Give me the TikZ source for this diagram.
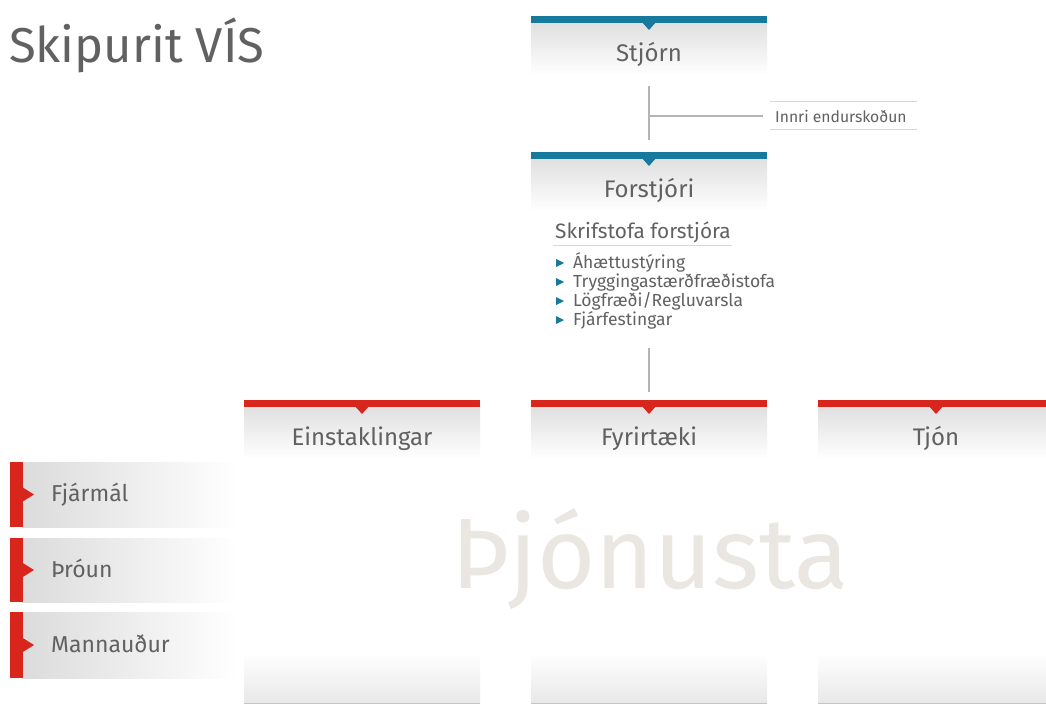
\documentclass[tikz,border=0pt]{standalone}
\usepackage{fontspec}
\setmainfont{Fira Sans}
\definecolor{vblue}{HTML}{17799B}
\definecolor{vred}{HTML}{D9261C}
\definecolor{txt}{HTML}{616161}
\definecolor{wm}{HTML}{EAE6E2}
\definecolor{lgray}{HTML}{C8C8C8}
\tikzset{
  hdtext/.style={anchor=base, text=txt, font=\fontsize{24}{24}\selectfont, inner sep=0pt},
  sidetext/.style={anchor=base west, text=txt, font=\fontsize{23}{23}\selectfont, inner sep=0pt},
  itemtext/.style={anchor=base west, text=txt, font=\fontsize{17.5}{17.5}\selectfont, inner sep=0pt},
  conn/.style={draw=lgray!90!black, line width=1.6pt},
}
\newcommand\headerbox[5]{% name, cx, bar y, color, label
  \shade[top color=black!13, bottom color=white] (#2-118,#3) rectangle (#2+118,#3+56);
  \fill[#4] (#2-118,#3-3.5) rectangle (#2+118,#3+3.5);
  \fill[#4] (#2-8,#3+2) -- (#2+8,#3+2) -- (#2,#3+11) -- cycle;
  \node[hdtext] (#1) at (#2,#3+42) {#5};
}
\newcommand\sidebox[4]{% name, top y, bottom y, label
  \shade[left color=black!14, right color=white] (22,#2) rectangle (236,#3);
  \fill[vred] (10,#2) rectangle (22.5,#3);
  \fill[vred] (22,{(#2+#3)/2-7.5}) -- (34,{(#2+#3)/2}) -- (22,{(#2+#3)/2+7.5}) -- cycle;
  \node[sidetext] (#1) at (51,{(#2+#3)/2+7}) {#4};
}
\begin{document}
\begin{tikzpicture}[x=1pt,y=-1pt]
\useasboundingbox (0,0) rectangle (1046,704);
\fill[white] (0,0) rectangle (1046,704);
% title
\node[anchor=base west, text=txt, font=\fontsize{49}{49}\selectfont, inner sep=0pt] (title) at (9,62) {Skipurit VÍS};
% watermark
\node[anchor=base, text=wm, font=\fontsize{100}{100}\selectfont, inner sep=0pt] (wmark) at (650,588) {Þjónusta};
% bottom fades
\foreach \x/\w in {244/236, 531/236, 818/228} {
  \shade[top color=white, bottom color=black!9] (\x,653) rectangle (\x+\w,702.5);
  \fill[vred!35] (\x,702.5) rectangle (\x+\w,704);
}
% top boxes
\headerbox{stjorn}{649}{19}{vblue}{Stjórn}
\headerbox{forstjori}{649}{155}{vblue}{Forstjóri}
% red row
\headerbox{einst}{362}{403}{vred}{Einstaklingar}
\headerbox{fyrirt}{649}{403}{vred}{Fyrirtæki}
\shade[top color=black!13, bottom color=white] (818,403) rectangle (1046,459);
\fill[vred] (818,399.5) rectangle (1046,406.5);
\fill[vred] (928,405) -- (944,405) -- (936,414) -- cycle;
\node[hdtext] (tjon) at (936,445) {Tjón};
% Innri endurskodun
\node[anchor=west, text=txt, font=\fontsize{15.7}{15.7}\selectfont, inner sep=0pt] (innri) at (775,116) {Innri endurskoðun};
\draw[lgray!70, line width=0.8pt] (770,101) -- (917,101);
\draw[lgray!70, line width=0.8pt] (770,129) -- (917,129);
\coordinate (s1) at (649,86);
\coordinate (s2) at (649,140);
\coordinate (s3) at (649,116);
\coordinate (s4) at (763,116);
\draw[conn] (s1) -- (s2);
\draw[conn] (s3) -- (s4);
% skrifstofa
\node[anchor=base west, text=txt, font=\fontsize{20.8}{20.8}\selectfont, inner sep=0pt] (skrif) at (555,238) {Skrifstofa forstjóra};
\draw[lgray!70, line width=0.8pt] (553,245.5) -- (732,245.5);
\foreach \n/\y/\t in {i1/268/{Áhættustýring}, i2/287/{Tryggingastærðfræðistofa}, i3/306/{Lögfræði/Regluvarsla}, i4/325/{Fjárfestingar}} {
  \fill[vblue] (556,\y-9) -- (564,\y-5) -- (556,\y-1) -- cycle;
  \node[itemtext] (\n) at (573,\y) {\t};
}
\coordinate (f1) at (649,348);
\coordinate (f2) at (649,392);
\draw[conn] (f1) -- (f2);
% side boxes
\sidebox{fjarmal}{462}{527}{Fjármál}
\sidebox{throun}{538}{602}{Þróun}
\sidebox{mannaudur}{612}{678}{Mannauður}
\end{tikzpicture}
\end{document}
